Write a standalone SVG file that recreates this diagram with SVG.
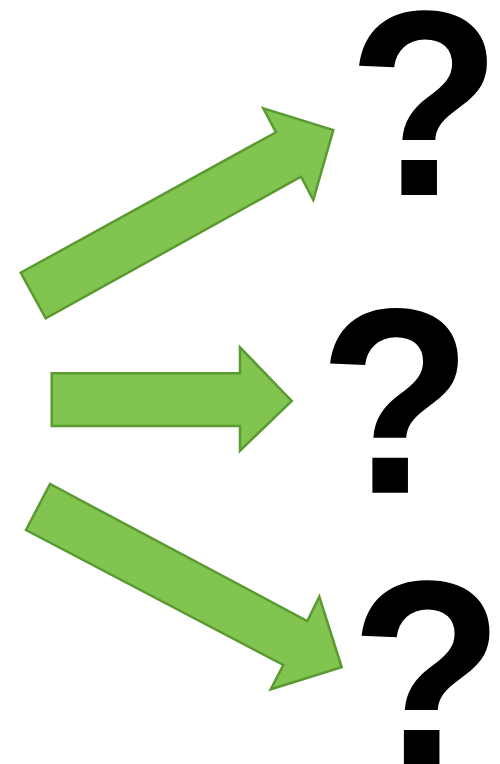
<svg xmlns="http://www.w3.org/2000/svg" width="500" height="764" viewBox="0 0 500 764">
<style>
.arrow{fill:#81C550;stroke:#5B9A33;stroke-width:2.5;stroke-linejoin:miter}
.q{font-family:"Liberation Sans",Arial,sans-serif;font-weight:bold;font-size:252px;fill:#000}
</style>
<rect width="500" height="764" fill="#fff"/>
<g id="connectors">
<polygon id="arrow-up" class="arrow" points="20.7,272.7 45.7,318.3 301,176.7 313.3,200 333.3,130 263.3,108.3 276,132.3"/>
<polygon id="arrow-right" class="arrow" points="51.7,373.3 240,373.3 240,347.3 291.7,401 240,450.7 240,426 51.7,426"/>
<polygon id="arrow-down" class="arrow" points="50,484 26,530 283.3,665 270.7,689.3 341.7,667.3 319.3,596.7 307.3,621"/>
</g>
<g id="q1" transform="translate(347.5,195) scale(1,1.05)"><text class="q" x="0" y="0">?</text></g>
<g id="q2" transform="translate(318.5,492.7) scale(1,1.05)"><text class="q" x="0" y="0">?</text></g>
<g id="q3" transform="translate(350,765) scale(1,1.05)"><text class="q" x="0" y="0">?</text></g>
</svg>
